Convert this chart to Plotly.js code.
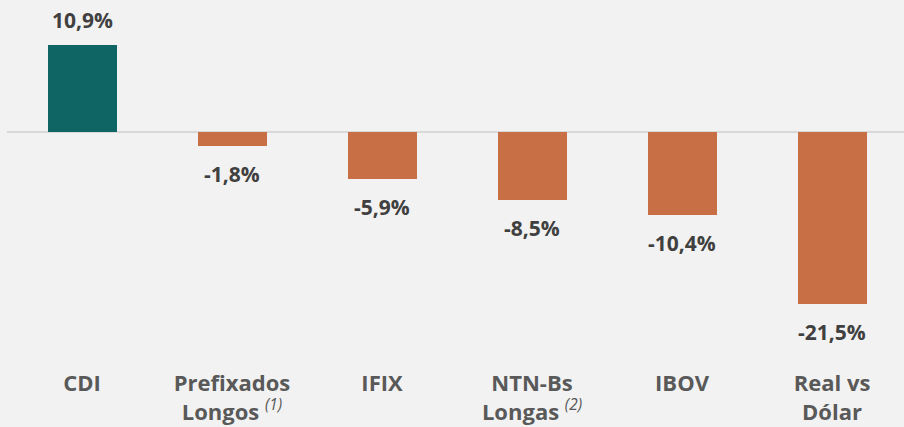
<!DOCTYPE html>
<html>
<head>
<meta charset="utf-8">
<script src="https://cdn.plot.ly/plotly-3.0.1.min.js"></script>
<style>html,body{margin:0;padding:0;background:#f2f2f2;}</style>
</head>
<body>
<div id="chart" style="width:904px;height:427px;"></div>
<script>
const categories = ["CDI", "Prefixados", "IFIX", "NTN-Bs", "IBOV", "Real vs"];
const tickLabels = [
  "CDI",
  "Prefixados<br>Longos <span style=\"font-weight:normal\"><sup><i>(1)</i></sup></span>",
  "IFIX",
  "NTN-Bs<br>Longas <span style=\"font-weight:normal\"><sup><i>(2)</i></sup></span>",
  "IBOV",
  "Real vs<br>Dólar"
];
const values = [10.9, -1.8, -5.9, -8.5, -10.4, -21.5];
const valueLabels = ["10,9%", "-1,8%", "-5,9%", "-8,5%", "-10,4%", "-21,5%"];

const teal = "#0f6464";
const orange = "#c96f45";
const colors = values.map(v => v >= 0 ? teal : orange);
const xs = categories.map((c, i) => i);

const trace = {
  type: "bar",
  x: xs,
  y: values,
  width: 0.46,
  marker: {color: colors, line: {width: 0}},
  hoverinfo: "none"
};

const annotations = values.map((v, i) => ({
  x: i, y: v, xref: "x", yref: "y",
  text: "<b>" + valueLabels[i] + "</b>",
  showarrow: false,
  yanchor: "middle",
  yshift: v >= 0 ? 25 : -28,
  font: {family: "Open Sans", size: 21, color: "#404040"}
}));

const layout = {
  width: 904, height: 427,
  margin: {l: 7, r: 0, t: 20, b: 95},
  paper_bgcolor: "#f2f2f2",
  plot_bgcolor: "#f2f2f2",
  showlegend: false,
  bargap: 0,
  xaxis: {
    range: [-0.5, 5.48],
    tickvals: xs,
    ticktext: tickLabels,
    showgrid: false, zeroline: false, showline: false,
    ticks: "",
    ticklabelstandoff: 36,
    tickfont: {family: "Open Sans", size: 22, color: "#595959", weight: "bold"},
    fixedrange: true
  },
  yaxis: {
    range: [-25.06, 14.04],
    showgrid: false, showticklabels: false, ticks: "",
    zeroline: true, zerolinecolor: "#d9d9d9", zerolinewidth: 2,
    showline: false, fixedrange: true
  },
  annotations: annotations
};

Plotly.newPlot("chart", [trace], layout, {displayModeBar: false, staticPlot: true});
</script>
</body>
</html>
